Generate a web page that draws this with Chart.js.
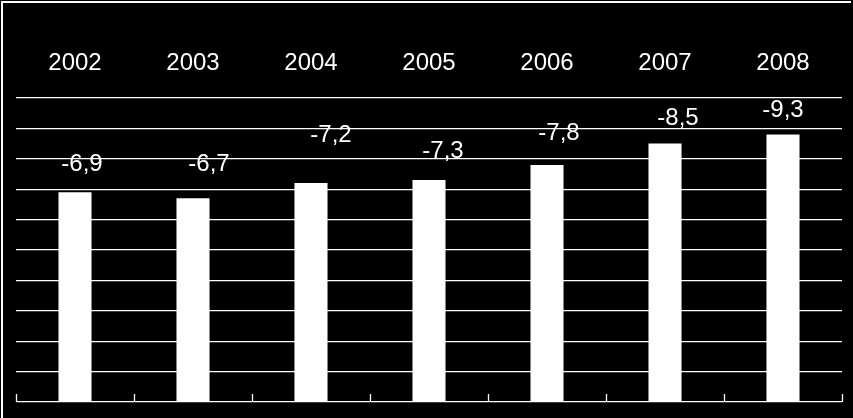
<!DOCTYPE html>
<html>
<head>
<meta charset="utf-8">
<script src="https://cdn.jsdelivr.net/npm/chart.js@4/dist/chart.umd.min.js"></script>
<style>
  html, body { margin: 0; padding: 0; background: #000; }
  #wrap { width: 853px; height: 418px; position: relative; background: #000; }
</style>
</head>
<body>
<div id="wrap"><canvas id="chartBarras"></canvas></div>
<script>
const years = ['2002', '2003', '2004', '2005', '2006', '2007', '2008'];
// bar heights as drawn (magnitudes)
const barValues = [6.9, 6.7, 7.2, 7.3, 7.8, 8.5, 8.8];
// printed labels above the bars
const valueLabels = ['-6,9', '-6,7', '-7,2', '-7,3', '-7,8', '-8,5', '-9,3'];

// hand-placed label nudges relative to bar top centre [dx, dy to baseline]
const labelNudge = [[7, -21], [16, -27], [20, -41], [14, -22], [12, -25], [13, -19], [0, -17]];

const FONT = '"Liberation Sans", Arial, sans-serif';

const decorPlugin = {
  id: 'decor',
  afterDraw(chart) {
    const { ctx, chartArea } = chart;
    const x = chart.scales.x;
    const meta = chart.getDatasetMeta(0);

    ctx.save();
    // frame edges (top and left only)
    ctx.strokeStyle = '#fff';
    ctx.lineWidth = 2;
    ctx.beginPath();
    ctx.moveTo(2, 418);
    ctx.lineTo(2, 2);
    ctx.lineTo(851, 2);
    ctx.stroke();

    // category separator ticks on the base line
    const half = (x.getPixelForValue(1) - x.getPixelForValue(0)) / 2;
    ctx.lineWidth = 1.3;
    ctx.beginPath();
    for (let i = 0; i <= years.length; i += 1) {
      const px = Math.round(x.getPixelForValue(i) - half) + 0.5;
      ctx.moveTo(px, chartArea.bottom);
      ctx.lineTo(px, chartArea.bottom - 8);
    }
    ctx.stroke();

    ctx.fillStyle = '#fff';
    ctx.font = `24px ${FONT}`;
    ctx.textAlign = 'center';
    ctx.textBaseline = 'alphabetic';

    years.forEach((year, i) => {
      ctx.fillText(year, x.getPixelForValue(i), 70);
    });

    meta.data.forEach((bar, i) => {
      const [dx, dy] = labelNudge[i];
      ctx.fillText(valueLabels[i], bar.x + dx, bar.y + dy);
    });
    ctx.restore();
  },
};

new Chart(document.getElementById('chartBarras'), {
  type: 'bar',
  data: {
    labels: years,
    datasets: [{
      data: barValues,
      backgroundColor: '#fff',
      borderWidth: 0,
      barPercentage: 0.28,
      categoryPercentage: 1,
    }],
  },
  options: {
    responsive: true,
    maintainAspectRatio: false,
    animation: false,
    layout: { padding: { left: 16, right: 11, top: 98, bottom: 16 } },
    plugins: {
      legend: { display: false },
      tooltip: { enabled: false },
    },
    scales: {
      x: { display: false },
      y: {
        min: 0,
        max: 10,
        ticks: { display: false, stepSize: 1 },
        grid: { color: '#fff', lineWidth: 1.3, drawTicks: false },
        border: { display: false },
      },
    },
  },
  plugins: [decorPlugin],
});
</script>
</body>
</html>
